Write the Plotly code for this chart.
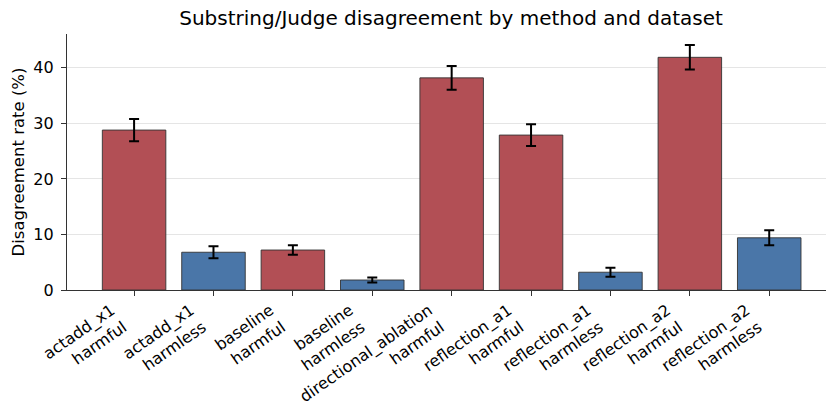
import plotly.graph_objects as go

# Disagreement rates (%) between substring matching and the judge, per method/dataset
methods = ["actadd_x1", "actadd_x1", "baseline", "baseline", "directional_ablation",
           "reflection_a1", "reflection_a1", "reflection_a2", "reflection_a2"]
datasets = ["harmful", "harmless", "harmful", "harmless", "harmful",
            "harmful", "harmless", "harmful", "harmless"]
rates = [28.8, 6.8, 7.2, 1.8, 38.2, 27.9, 3.2, 41.9, 9.4]
errors = [2.0, 1.1, 0.85, 0.45, 2.15, 1.95, 0.8, 2.2, 1.35]

palette = {"harmful": "#b24f55", "harmless": "#4a76a8"}
colors = [palette[d] for d in datasets]
# trailing non-breaking spaces push the rotated labels away from the tick
pad = "\u00a0" * 4
labels = [f"{m}{pad}<br>{d}{pad}" for m, d in zip(methods, datasets)]
xpos = list(range(len(rates)))

fig = go.Figure(go.Bar(
    x=xpos, y=rates, width=0.8,
    marker=dict(color=colors, line=dict(color="#333333", width=0.9)),
    error_y=dict(type="data", array=errors, color="black", thickness=2, width=5),
    showlegend=False,
))

font = "DejaVu Sans, sans-serif"
fig.update_layout(
    width=826, height=407,
    margin=dict(l=67, r=0, t=34, b=117),
    paper_bgcolor="white", plot_bgcolor="white",
    font=dict(family=font, size=16, color="black"),
    title=dict(text="Substring/Judge disagreement by method and dataset",
               x=0.506, xref="paper", xanchor="center",
               y=0.955, yref="container", yanchor="middle",
               font=dict(size=20, family=font, color="black")),
    bargap=0.2,
)
fig.update_xaxes(
    range=[-0.845, 8.715], tickmode="array", tickvals=xpos, ticktext=labels,
    tickangle=-35, ticks="outside", ticklen=5, tickwidth=1, tickcolor="#333333",
    showline=True, linecolor="#333333", linewidth=1.3, showgrid=False,
    zeroline=False, automargin=False,
    ticklabelstandoff=-13, ticklabelshift=-6,
    tickfont=dict(size=16, family=font, color="black"),
)
fig.update_yaxes(
    range=[0, 46.1], tickvals=[0, 10, 20, 30, 40],
    ticks="outside", ticklen=5, tickwidth=1, tickcolor="#333333",
    showline=True, linecolor="#333333", linewidth=1.3,
    showgrid=True, gridcolor="#e5e5e5", gridwidth=1, zeroline=False,
    automargin=False, ticklabelstandoff=4,
    title=dict(text="Disagreement rate (%)", font=dict(size=16.5, family=font), standoff=4),
    tickfont=dict(size=16, family=font, color="black"),
)

fig.write_html("out.html")
